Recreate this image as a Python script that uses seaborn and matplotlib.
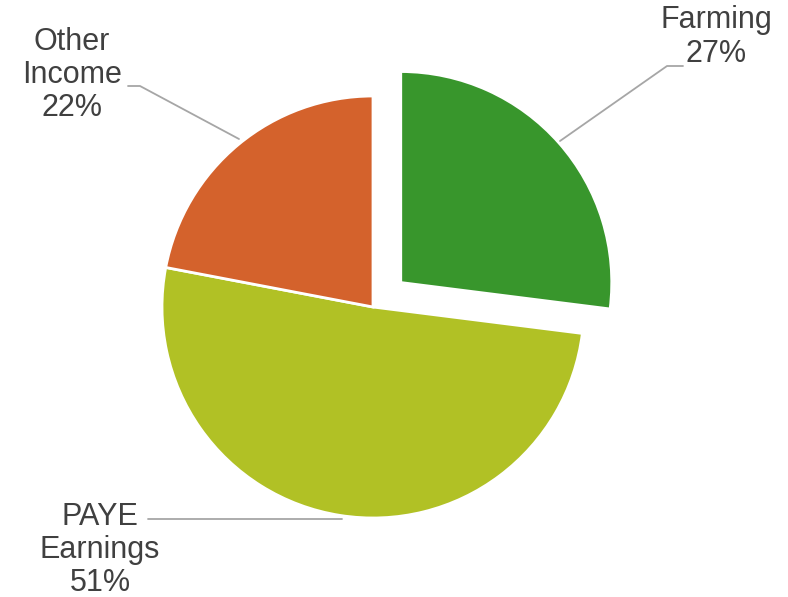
import matplotlib
matplotlib.use("Agg")
import matplotlib.pyplot as plt
import seaborn as sns

categories = ["Farming", "PAYE\nEarnings", "Other\nIncome"]
shares = [27, 51, 22]
colors = ["#38962C", "#B1C125", "#D4622C"]
# explode offsets in pixels (axes use pixel units)
explode_amount = [37, 0, 0]

sns.set_theme(style="white")
plt.rcParams["font.family"] = ["Liberation Sans", "DejaVu Sans"]

fig = plt.figure(figsize=(7.88, 5.97), dpi=100)
ax = fig.add_axes([0, 0, 1, 1])

ax.pie(
    shares,
    colors=sns.color_palette(colors),
    explode=explode_amount,
    startangle=90,
    counterclock=False,
    center=(373, 290),
    radius=211,
    wedgeprops={"edgecolor": "white", "linewidth": 2},
    frame=True,
)
ax.set_xlim(0, 788)
ax.set_ylim(0, 597)
ax.set_aspect("equal")
ax.axis("off")

label_pos = [(716, 560), (100, 47), (72, 522)]
for name, share, (x, y) in zip(categories, shares, label_pos):
    ax.text(
        x, y, f"{name}\n{share}%",
        ha="center", va="center",
        fontsize=22, color="#404040", linespacing=1.15,
    )

# leader lines
line_color = "#A6A6A6"
ax.plot([560, 667, 683], [456, 531, 531], color=line_color, lw=1.3)
ax.plot([239, 140, 128], [458, 511, 511], color=line_color, lw=1.3)
ax.plot([148, 342], [78, 78], color=line_color, lw=1.3)

fig.savefig("out.png", dpi=100)
